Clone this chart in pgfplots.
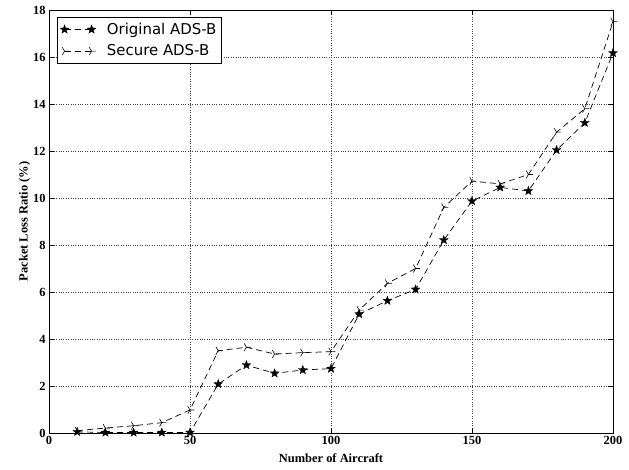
\documentclass[border=0pt]{standalone}
\usepackage{fontspec}
\setmainfont{Liberation Serif}
\newfontfamily\legfont{DejaVu Sans}
\usepackage{pgfplots}
\pgfplotsset{compat=1.18}
\usetikzlibrary{calc}

% filled five-pointed star
\pgfdeclareplotmark{fstar}{%
  \pgfpathmoveto{\pgfpointpolar{90}{\pgfplotmarksize}}%
  \pgfpathlineto{\pgfpointpolar{126}{0.42\pgfplotmarksize}}%
  \pgfpathlineto{\pgfpointpolar{162}{\pgfplotmarksize}}%
  \pgfpathlineto{\pgfpointpolar{198}{0.42\pgfplotmarksize}}%
  \pgfpathlineto{\pgfpointpolar{234}{\pgfplotmarksize}}%
  \pgfpathlineto{\pgfpointpolar{270}{0.42\pgfplotmarksize}}%
  \pgfpathlineto{\pgfpointpolar{306}{\pgfplotmarksize}}%
  \pgfpathlineto{\pgfpointpolar{342}{0.42\pgfplotmarksize}}%
  \pgfpathlineto{\pgfpointpolar{18}{\pgfplotmarksize}}%
  \pgfpathlineto{\pgfpointpolar{54}{0.42\pgfplotmarksize}}%
  \pgfpathclose
  \pgfusepathqfillstroke}

\begin{document}
\begin{tikzpicture}[x=1bp,y=1bp]
\begin{axis}[
    scale only axis,
    width=564bp, height=423bp,
    xmin=0, xmax=200, ymin=0, ymax=18,
    xtick={0,50,...,200},
    ytick={0,2,...,18},
    tick align=inside,
    major tick length=5bp,
    grid=major,
    major grid style={black!75, dotted, line width=0.6pt},
    axis line style={black, line width=0.9pt},
    tick style={black, line width=0.6pt},
    ticklabel style={font=\fontsize{12.5}{14}\selectfont\bfseries},
    /pgf/number format/assume math mode=true,
    xlabel={\textbf{Number of Aircraft}},
    ylabel={\textbf{Packet Loss Ratio (\%)}},
    label style={font=\fontsize{12.5}{14}\selectfont},
    xlabel style={yshift=-2bp},
    ylabel style={yshift=-4bp},
    legend style={at={(0.014,0.984)}, anchor=north west,
        draw=black, line width=0.6pt,
        font=\legfont\fontsize{15}{18}\selectfont,
        row sep=5bp, inner xsep=3bp, inner ysep=4bp},
    legend cell align=left,
    legend image code/.code={%
        \path (-4bp,0bp) (40bp,0bp);
        \draw[#1] plot coordinates {(0bp,0bp) (27bp,0bp)};},
]
\addplot[black, line width=0.7pt, dash pattern=on 6bp off 4bp,
    mark=fstar, mark size=4.6pt,
    mark options={solid, fill=black, line width=0.3pt}]
coordinates {
(10,0.05) (20,0.02) (30,0.02) (40,0.02) (50,0.02)
(60,2.08) (70,2.89) (80,2.54) (90,2.68) (100,2.74)
(110,5.06) (120,5.63) (130,6.11) (140,8.21) (150,9.87)
(160,10.45) (170,10.3) (180,12.04) (190,13.2) (200,16.17)
};
\addlegendentry{Original ADS-B}
\addplot[black, line width=0.7pt, dash pattern=on 6bp off 4bp,
    mark=Mercedes star, mark size=4.5pt,
    mark options={solid, rotate=-90, line width=0.6pt}]
coordinates {
(10,0.1) (20,0.21) (30,0.31) (40,0.44) (50,0.98)
(60,3.5) (70,3.65) (80,3.36) (90,3.42) (100,3.46)
(110,5.23) (120,6.37) (130,7.0) (140,9.6) (150,10.72)
(160,10.6) (170,11.0) (180,12.8) (190,13.8) (200,17.5)
};
\addlegendentry{Secure ADS-B}
\end{axis}
\pgfresetboundingbox
\path[use as bounding box] ($(current axis.south west)+(-49bp,-37bp)$) rectangle ($(current axis.north east)+(16bp,10bp)$);
\end{tikzpicture}
\end{document}
